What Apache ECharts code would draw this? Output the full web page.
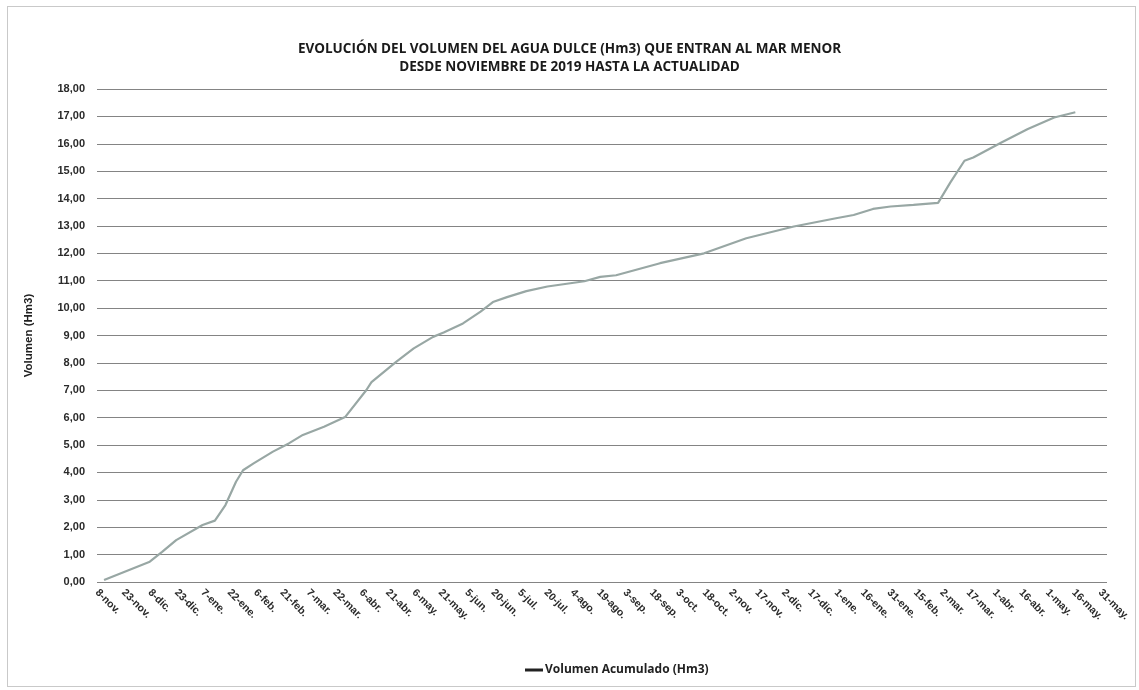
<!DOCTYPE html>
<html>
<head>
<meta charset="utf-8">
<title>Volumen agua dulce Mar Menor</title>
<script src="https://cdn.jsdelivr.net/npm/echarts@6/dist/echarts.min.js"></script>
<style>
  html, body { margin: 0; padding: 0; background: #fff; }
  .frame {
    position: absolute;
    left: 7px; top: 6px;
    width: 1127px; height: 679px;
    border: 1px solid #c9c9c9;
  }
  #chart { position: absolute; left: 0; top: 0; width: 1139px; height: 690px; }
</style>
</head>
<body>
<div class="frame"></div>
<div id="chart"></div>
<script>
// tick labels, one every 15 days starting 8-nov-2019
const tickLabels = [
  '8-nov.', '23-nov.', '8-dic.', '23-dic.', '7-ene.', '22-ene.', '6-feb.', '21-feb.',
  '7-mar.', '22-mar.', '6-abr.', '21-abr.', '6-may.', '21-may.', '5-jun.', '20-jun.',
  '5-jul.', '20-jul.', '4-ago.', '19-ago.', '3-sep.', '18-sep.', '3-oct.', '18-oct.',
  '2-nov.', '17-nov.', '2-dic.', '17-dic.', '1-ene.', '16-ene.', '31-ene.', '15-feb.',
  '2-mar.', '17-mar.', '1-abr.', '16-abr.', '1-may.', '16-may.', '31-may.'
];

// days since 8-nov-2019
const days = [
  4, 30, 37, 45, 60, 67, 73, 79, 83, 89, 100, 109, 117, 129,
  141, 153, 156, 170, 180, 191, 197, 208, 218, 225, 233, 244, 256, 267, 277, 286,
  295, 320, 345, 369, 396, 420, 430,
  441, 451, 464, 478, 485, 493, 498, 514, 529, 544, 556
];

// accumulated volume (Hm3)
const volumes = [
  0.07, 0.74, 1.10, 1.53, 2.08, 2.24, 2.81, 3.66, 4.08, 4.33, 4.76, 5.06, 5.37, 5.67,
  6.02, 7.00, 7.30, 8.04, 8.53, 8.95, 9.11, 9.44, 9.87, 10.22, 10.40, 10.62, 10.79, 10.89, 10.98, 11.14,
  11.20, 11.64, 12.00, 12.55, 12.98, 13.28, 13.40,
  13.62, 13.71, 13.77, 13.84, 14.59, 15.38, 15.50, 16.05, 16.54, 16.96, 17.15
];

const seriesData = days.map((d, i) => [d, volumes[i]]);

const chart = echarts.init(document.getElementById('chart'));

const option = {
  animation: false,
  title: {
    text: 'EVOLUCIÓN DEL VOLUMEN DEL AGUA DULCE (Hm3) QUE ENTRAN AL MAR MENOR\nDESDE NOVIEMBRE DE 2019 HASTA LA ACTUALIDAD',
    left: 'center',
    top: 35,
    textStyle: {
      fontFamily: 'Open Sans',
      fontWeight: 'bold',
      fontSize: 13.5,
      lineHeight: 18,
      color: '#1a1a1a'
    }
  },
  legend: {
    left: 520,
    top: 659,
    itemWidth: 18,
    itemHeight: 3,
    icon: 'rect',
    itemStyle: { color: '#222' },
    textStyle: {
      fontFamily: 'Open Sans',
      fontWeight: 'bold',
      fontSize: 12,
      color: '#222',
      padding: [0, 0, 0, -3]
    },
    data: ['Volumen Acumulado (Hm3)']
  },
  grid: {
    left: 97,
    right: 32,
    top: 89,
    bottom: 108,
    outerBoundsMode: 'none'
  },
  xAxis: {
    type: 'value',
    min: 0,
    max: 574,
    interval: 15,
    axisLine: { show: false },
    axisTick: { show: false },
    splitLine: { show: false },
    axisLabel: {
      rotate: -45,
      margin: 9,
      fontFamily: 'Liberation Sans',
      fontWeight: 'bold',
      fontSize: 10.5,
      color: '#2a2a2a',
      formatter: function (v) {
        if (v % 15 !== 0) return '';
        return tickLabels[v / 15] || '';
      }
    }
  },
  yAxis: {
    type: 'value',
    min: 0,
    max: 18,
    interval: 1,
    name: 'Volumen (Hm3)',
    nameLocation: 'middle',
    nameGap: 62,
    nameTextStyle: {
      fontFamily: 'Liberation Sans',
      fontWeight: 'bold',
      fontSize: 11.5,
      color: '#222'
    },
    axisLine: { show: false },
    axisTick: { show: false },
    axisLabel: {
      margin: 12,
      fontFamily: 'Liberation Sans',
      fontWeight: 'bold',
      fontSize: 11,
      color: '#2a2a2a',
      formatter: function (v) {
        return v.toFixed(2).replace('.', ',');
      }
    },
    splitLine: {
      lineStyle: { color: '#848484', width: 1 }
    }
  },
  series: [{
    name: 'Volumen Acumulado (Hm3)',
    type: 'line',
    data: seriesData,
    showSymbol: false,
    smooth: false,
    lineStyle: { color: '#98a7a4', width: 2.2 },
    itemStyle: { color: '#98a7a4' }
  }]
};

chart.setOption(option);
</script>
</body>
</html>
